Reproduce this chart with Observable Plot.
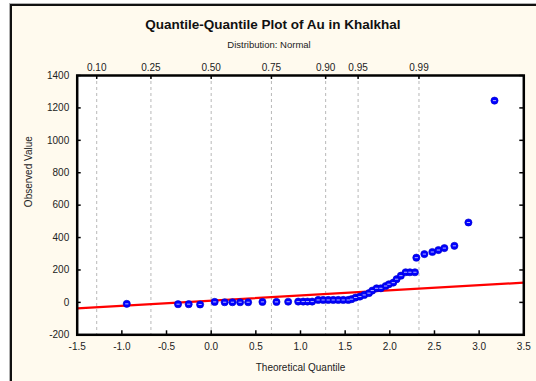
<!DOCTYPE html>
<html>
<head>
<meta charset="utf-8">
<script src="https://cdn.jsdelivr.net/npm/d3@7"></script>
<script src="https://cdn.jsdelivr.net/npm/@observablehq/plot@0.6"></script>
<style>
  html, body { margin: 0; padding: 0; width: 536px; height: 381px; overflow: hidden; background: #ffffff; font-family: "Liberation Sans", Arial, sans-serif; }
  #frame { position: absolute; left: 10px; top: 4px; width: 580px; height: 420px; border: 2px solid #111; background: #fffaee; box-shadow: -1px -1px 0 #b0b0b0; }
  #title { position: absolute; left: 0; top: 17px; width: 546px; text-align: center; font-weight: bold; font-size: 13.5px; line-height: 16px; color: #111; }
  #subtitle { position: absolute; left: 0; top: 39px; width: 538px; text-align: center; font-size: 9.5px; line-height: 12px; color: #222; }
  #chart { position: absolute; left: 0; top: 50px; }
</style>
</head>
<body>
<div id="frame"></div>
<div id="title">Quantile-Quantile Plot of Au in Khalkhal</div>
<div id="subtitle">Distribution: Normal</div>
<div id="chart"></div>
<script>
// ---- data ----
const theoreticalQuantile = [
  -0.945, -0.371, -0.252, -0.124, 0.039, 0.151, 0.238, 0.324, 0.414, 0.574,
  0.731, 0.862, 0.974, 1.030, 1.078, 1.131, 1.198, 1.254, 1.311, 1.367,
  1.423, 1.479, 1.535, 1.572, 1.617, 1.665, 1.714, 1.766, 1.804, 1.852,
  1.900, 1.953, 1.990, 2.039, 2.076, 2.124, 2.177, 2.225, 2.281, 2.297,
  2.387, 2.476, 2.544, 2.611, 2.723, 2.880, 3.172
];
const observedValue = [
  -9, -11, -11, -13, 3, 1, 1, 1, 1, 3,
  3, 4, 5, 5, 5, 5, 15, 15, 15, 15,
  15, 15, 15, 20, 30, 36, 46, 57, 73, 87,
  87, 101, 112, 122, 143, 165, 186, 186, 186, 276,
  298, 311, 323, 335, 349, 493, 1245
];
const fitLineX = [-1.5, 3.5];
const fitLineY = [-37, 122];
const xTicks = [-1.5, -1.0, -0.5, 0.0, 0.5, 1.0, 1.5, 2.0, 2.5, 3.0, 3.5];
const yTicks = [-200, 0, 200, 400, 600, 800, 1000, 1200, 1400];
const probTicks = [0.10, 0.25, 0.50, 0.75, 0.90, 0.95, 0.99];
const probLabels = ["0.10", "0.25", "0.50", "0.75", "0.90", "0.95", "0.99"];

// inverse normal CDF (Acklam) to place the probability axis
function invNorm(p) {
  const a = [-3.969683028665376e+01, 2.209460984245205e+02, -2.759285104469687e+02, 1.383577518672690e+02, -3.066479806614716e+01, 2.506628277459239e+00];
  const b = [-5.447609879822406e+01, 1.615858368580409e+02, -1.556989798598866e+02, 6.680131188771972e+01, -1.328068155288572e+01];
  const c = [-7.784894002430293e-03, -3.223964580411365e-01, -2.400758277161838e+00, -2.549732539343734e+00, 4.374664141464968e+00, 2.938163982698783e+00];
  const d = [7.784695709041462e-03, 3.224671290700398e-01, 2.445134137142996e+00, 3.754408661907416e+00];
  const pl = 0.02425, ph = 1 - pl;
  let q, r;
  if (p < pl) {
    q = Math.sqrt(-2 * Math.log(p));
    return (((((c[0]*q+c[1])*q+c[2])*q+c[3])*q+c[4])*q+c[5]) / ((((d[0]*q+d[1])*q+d[2])*q+d[3])*q+1);
  } else if (p <= ph) {
    q = p - 0.5; r = q * q;
    return (((((a[0]*r+a[1])*r+a[2])*r+a[3])*r+a[4])*r+a[5])*q / (((((b[0]*r+b[1])*r+b[2])*r+b[3])*r+b[4])*r+1);
  } else {
    q = Math.sqrt(-2 * Math.log(1 - p));
    return -(((((c[0]*q+c[1])*q+c[2])*q+c[3])*q+c[4])*q+c[5]) / ((((d[0]*q+d[1])*q+d[2])*q+d[3])*q+1);
  }
}

const points = theoreticalQuantile.map((x, i) => ({x, y: observedValue[i]}));
const fit = fitLineX.map((x, i) => ({x, y: fitLineY[i]}));
const probs = probTicks.map((p, i) => ({z: invNorm(p), label: probLabels[i]}));

const W = 536, H = 331;
const mL = 76.7, mR = 12.7, mT = 25, mB = 46.7;
const fW = W - mL - mR, fH = H - mT - mB;

const dash = { draw(ctx, size) { ctx.moveTo(-1.6, 0); ctx.lineTo(1.6, 0); } };

const chart = Plot.plot({
  width: W, height: H,
  marginLeft: mL, marginRight: mR, marginTop: mT, marginBottom: mB,
  style: { fontFamily: "'Liberation Sans', Arial, sans-serif", fontSize: "10px", background: "transparent", color: "#222", overflow: "visible" },
  x: { domain: [-1.5, 3.5] },
  y: { domain: [-200, 1400] },
  marks: [
    Plot.frame({ fill: "white", stroke: null }),
    Plot.ruleX(probs, { x: "z", stroke: "#b8b8b8", strokeDasharray: "3,3", strokeWidth: 1 }),
    Plot.line(fit, { x: "x", y: "y", stroke: "#ff0000", strokeWidth: 2.2 }),
    Plot.dot(points, { x: "x", y: "y", r: 3.6, fill: "#0000ff", stroke: "#0000c8", strokeWidth: 0.6 }),
    Plot.dot(points, { x: "x", y: "y", symbol: dash, r: 3, fill: "none", stroke: "#c8c8ff", strokeWidth: 0.9 }),
    Plot.frame({ stroke: "#000", strokeWidth: 2.5 }),
    Plot.tickX(xTicks, { x: d => d, insetTop: fH - 4, stroke: "#000", strokeWidth: 1.5 }),
    Plot.tickX(probs, { x: "z", insetBottom: fH - 4, stroke: "#000", strokeWidth: 1.5 }),
    Plot.tickY(yTicks, { y: d => d, insetRight: fW - 4, stroke: "#000", strokeWidth: 1.5 }),
    Plot.tickY(yTicks, { y: d => d, insetLeft: fW - 4, stroke: "#000", strokeWidth: 1.5 }),
    Plot.axisX({ ticks: xTicks, tickSize: 0, tickPadding: 8, tickFormat: d => d.toFixed(1), label: null }),
    Plot.axisY({ ticks: yTicks, tickSize: 0, tickPadding: 8, tickFormat: d => String(d), label: null }),
    Plot.text(probs, { x: "z", text: "label", frameAnchor: "top", dy: -12 }),
    Plot.text(["Theoretical Quantile"], { text: d => d, frameAnchor: "bottom", dy: 36 }),
    Plot.text(["Observed Value"], { text: d => d, frameAnchor: "left", dx: -48, dy: 2, rotate: -90 })
  ]
});
document.getElementById("chart").appendChild(chart);
</script>
</body>
</html>
